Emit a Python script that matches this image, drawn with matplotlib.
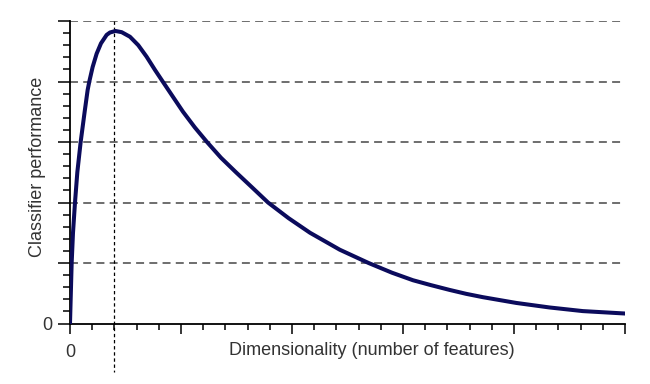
import matplotlib
matplotlib.use("Agg")
import matplotlib.pyplot as plt
from matplotlib.ticker import MultipleLocator

plt.rcParams['font.family'] = ['Liberation Sans', 'DejaVu Sans']

# curve (dimensionality vs performance, arbitrary units)
dims = [0, 0.015, 0.027, 0.045, 0.066, 0.096, 0.132, 0.159, 0.174, 0.204,
        0.24, 0.279, 0.33, 0.36, 0.41, 0.466, 0.54, 0.615, 0.69, 0.766,
        0.835, 0.93, 1.018, 1.125, 1.234, 1.36, 1.495, 1.64, 1.784, 1.97,
        2.162, 2.43, 2.69, 2.9, 3.09, 3.25, 3.42, 3.57, 3.72, 4.02,
        4.32, 4.62, 5.0]
perf = [0, 1.0, 1.5, 2.0, 2.5, 3.0, 3.5, 3.86, 4.0, 4.24,
        4.46, 4.63, 4.77, 4.81, 4.835, 4.815, 4.74, 4.6, 4.41, 4.19,
        4.0, 3.74, 3.5, 3.24, 3.0, 2.74, 2.5, 2.25, 2.0, 1.74,
        1.5, 1.22, 1.0, 0.84, 0.715, 0.635, 0.555, 0.49, 0.435, 0.34,
        0.265, 0.205, 0.165]
grid_levels = [1, 2, 3, 4, 5]
peak_dim = 0.4

fig = plt.figure(figsize=(6.5, 3.84), dpi=100)
ax = fig.add_axes([70/650, 1 - 323.5/384, 555/650, 302.5/384])

for g in grid_levels:
    ax.axhline(g, color='#6e6e6e', lw=1.4, linestyle=(0, (4.1, 2.7)), zorder=1)

# vertical dotted line at the optimum, runs below the axis
ax.plot([peak_dim, peak_dim], [5, -0.8], color='black', lw=0.9,
        linestyle=(0, (2.7, 2.2)), clip_on=False, zorder=1)

ax.plot(dims, perf, color='#0b0b5c', lw=2.9, solid_capstyle='round',
        solid_joinstyle='round', zorder=3)

ax.set_xlim(0, 5)
ax.set_ylim(0, 5)
for s in ['top', 'right']:
    ax.spines[s].set_visible(False)
for s in ['left', 'bottom']:
    ax.spines[s].set_linewidth(1.3)

ax.set_xticks([0, 1, 2, 3, 4, 5])
ax.set_xticklabels(['0', '', '', '', '', ''])
ax.set_yticks([0, 1, 2, 3, 4, 5])
ax.set_yticklabels(['0', '', '', '', '', ''])
ax.xaxis.set_minor_locator(MultipleLocator(0.2))
ax.yaxis.set_minor_locator(MultipleLocator(0.2))
ax.tick_params(axis='x', which='major', direction='out', length=7, width=1.1,
               pad=8, labelsize=13, labelcolor='#333333')
ax.tick_params(axis='x', which='minor', direction='out', length=4, width=1.1)
ax.tick_params(axis='y', which='major', direction='out', length=8.5, width=1.1,
               pad=4, labelsize=13, labelcolor='#333333')
ax.tick_params(axis='y', which='minor', direction='out', length=5, width=1.1)

ax.text(0.544, -0.088, 'Dimensionality (number of features)', transform=ax.transAxes,
        ha='center', va='center', fontsize=13, color='#333333')
ax.text(-0.058, 0.517, 'Classifier performance', transform=ax.transAxes,
        ha='center', va='center', rotation=90, fontsize=13, color='#333333')

fig.savefig('out.png', dpi=100)
